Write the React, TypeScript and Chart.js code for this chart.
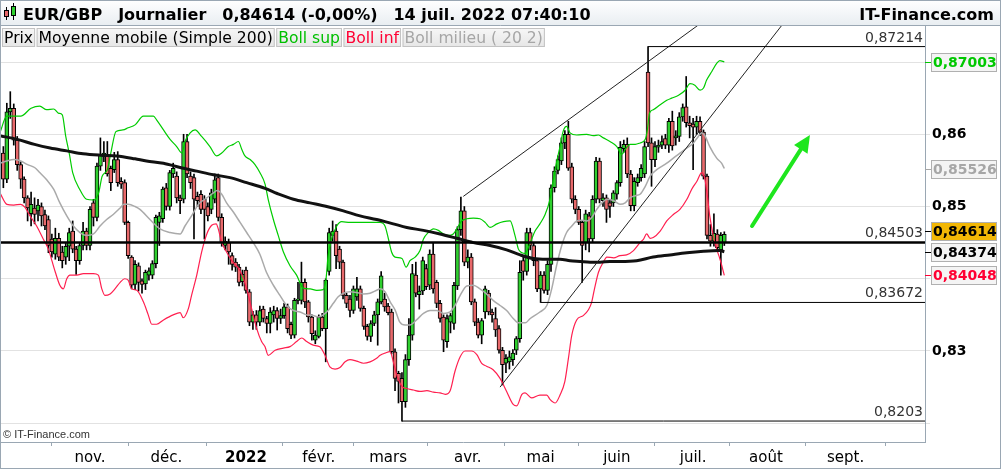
import React, { useEffect, useRef } from "react";
import { Chart, registerables } from "chart.js";

Chart.register(...registerables);

// ---------- DATA ----------
// x = trading-day index (0 = 1 Nov 2021), prices in pips (1/10000)
const PIP = 10000;
const FIRST_INDEX = -25;

const opens = [
  8574, 8538, 8631, 8636, 8592, 8558, 8538, 8512, 8490, 8498,
  8494, 8500, 8489, 8482, 8455, 8434, 8456, 8437, 8430, 8445,
  8466, 8441, 8425, 8446, 8466, 8446, 8505, 8485, 8556, 8570,
  8572, 8553, 8551, 8565, 8535, 8533, 8478, 8430, 8392, 8418,
  8397, 8393, 8405, 8405, 8421, 8478, 8483, 8526, 8500, 8545,
  8542, 8512, 8510, 8590, 8542, 8540, 8514, 8517, 8510, 8500,
  8496, 8510, 8540, 8485, 8446, 8450, 8432, 8423, 8416, 8396,
  8412, 8382, 8340, 8350, 8340, 8358, 8345, 8338, 8350, 8356,
  8345, 8349, 8361, 8337, 8322, 8370, 8370, 8395, 8368, 8347,
  8315, 8320, 8347, 8331, 8410, 8460, 8466, 8441, 8423, 8377,
  8372, 8356, 8375, 8386, 8359, 8334, 8320, 8338, 8350, 8368,
  8372, 8362, 8354, 8299, 8269, 8262, 8230, 8288, 8322, 8405,
  8378, 8383, 8414, 8391, 8434, 8395, 8366, 8347, 8313, 8340,
  8338, 8390, 8468, 8494, 8423, 8430, 8368, 8340, 8322, 8354,
  8380, 8354, 8345, 8331, 8301, 8283, 8285, 8288, 8301, 8317,
  8425, 8410, 8464, 8446, 8425, 8386, 8405, 8384, 8420, 8526,
  8550, 8563, 8588, 8600, 8555, 8510, 8496, 8478, 8450, 8487,
  8455, 8510, 8563, 8508, 8512, 8505, 8505, 8517, 8533, 8580,
  8586, 8545, 8501, 8533, 8540, 8545, 8686, 8588, 8565, 8582,
  8585, 8594, 8585, 8618, 8595, 8597, 8624, 8638, 8616, 8614,
  8610, 8618, 8603, 8542, 8460, 8452, 8462, 8440, 8450,
];
const highs = [
  8583, 8643, 8659, 8642, 8597, 8562, 8541, 8515, 8520, 8512,
  8510, 8505, 8495, 8487, 8462, 8470, 8463, 8445, 8450, 8470,
  8480, 8445, 8450, 8478, 8470, 8500, 8510, 8560, 8595, 8590,
  8590, 8556, 8575, 8576, 8540, 8537, 8480, 8432, 8425, 8422,
  8400, 8412, 8415, 8425, 8488, 8492, 8527, 8532, 8550, 8560,
  8548, 8516, 8600, 8600, 8548, 8545, 8520, 8522, 8515, 8505,
  8524, 8545, 8545, 8490, 8458, 8455, 8436, 8428, 8420, 8412,
  8416, 8385, 8355, 8356, 8362, 8362, 8348, 8360, 8362, 8360,
  8358, 8366, 8365, 8340, 8373, 8395, 8423, 8400, 8370, 8350,
  8328, 8350, 8352, 8400, 8470, 8480, 8475, 8445, 8426, 8380,
  8377, 8390, 8402, 8390, 8362, 8337, 8342, 8355, 8372, 8410,
  8380, 8366, 8358, 8303, 8272, 8270, 8295, 8345, 8420, 8423,
  8390, 8430, 8420, 8440, 8450, 8398, 8370, 8350, 8350, 8352,
  8395, 8472, 8513, 8500, 8440, 8435, 8372, 8345, 8345, 8390,
  8384, 8358, 8360, 8335, 8305, 8295, 8300, 8302, 8320, 8425,
  8432, 8470, 8470, 8450, 8428, 8410, 8410, 8425, 8530, 8555,
  8570, 8595, 8605, 8618, 8560, 8515, 8500, 8480, 8495, 8492,
  8515, 8568, 8567, 8518, 8516, 8510, 8522, 8536, 8590, 8592,
  8595, 8550, 8540, 8545, 8558, 8590, 8721.4, 8595, 8590, 8592,
  8598, 8600, 8622, 8632, 8605, 8630, 8642, 8680, 8625, 8622,
  8625, 8624, 8606, 8545, 8475, 8490, 8468, 8464, 8465,
];
const lows = [
  8526, 8533, 8622, 8585, 8550, 8525, 8505, 8480, 8473, 8476,
  8480, 8473, 8468, 8436, 8430, 8427, 8425, 8415, 8420, 8425,
  8436, 8406, 8420, 8440, 8440, 8440, 8473, 8480, 8550, 8562,
  8542, 8522, 8547, 8528, 8525, 8475, 8428, 8386, 8385, 8383,
  8380, 8385, 8398, 8400, 8415, 8446, 8478, 8495, 8495, 8540,
  8505, 8490, 8505, 8540, 8525, 8455, 8500, 8490, 8455, 8480,
  8490, 8505, 8480, 8445, 8440, 8420, 8412, 8410, 8390, 8390,
  8380, 8335, 8330, 8330, 8335, 8340, 8325, 8325, 8340, 8329,
  8338, 8345, 8325, 8317, 8318, 8365, 8365, 8360, 8340, 8315,
  8310, 8318, 8328, 8285, 8405, 8452, 8414, 8414, 8372, 8360,
  8347, 8352, 8370, 8355, 8330, 8315, 8313, 8335, 8308, 8365,
  8355, 8350, 8296, 8245, 8228, 8203, 8222, 8280, 8315, 8375,
  8358, 8378, 8385, 8385, 8380, 8360, 8340, 8299, 8305, 8325,
  8330, 8385, 8460, 8418, 8415, 8364, 8335, 8318, 8310, 8345,
  8350, 8340, 8320, 8297, 8253, 8270, 8275, 8280, 8295, 8312,
  8398, 8405, 8440, 8418, 8382, 8367.2, 8380, 8378, 8410, 8520,
  8545, 8558, 8580, 8550, 8505, 8490, 8475, 8395, 8440, 8437,
  8450, 8505, 8505, 8500, 8478, 8485, 8500, 8510, 8528, 8575,
  8540, 8494, 8494, 8528, 8535, 8540, 8583, 8528, 8555, 8575,
  8580, 8580, 8575, 8578, 8585, 8590, 8618, 8610, 8595, 8551,
  8600, 8598, 8538, 8455, 8445, 8445, 8438, 8405, 8446,
];
const closes = [
  8538, 8631, 8636, 8592, 8558, 8538, 8512, 8498, 8503, 8489,
  8502, 8487, 8473, 8446, 8437, 8456, 8430, 8425, 8445, 8464,
  8441, 8425, 8446, 8466, 8446, 8496, 8485, 8556, 8572, 8574,
  8545, 8533, 8565, 8533, 8531, 8478, 8432, 8391, 8420, 8395,
  8392, 8409, 8411, 8421, 8485, 8487, 8524, 8500, 8547, 8553,
  8512, 8508, 8590, 8545, 8533, 8510, 8508, 8496, 8496, 8487,
  8519, 8537, 8485, 8450, 8452, 8437, 8420, 8416, 8395, 8406,
  8384, 8340, 8350, 8340, 8356, 8345, 8338, 8354, 8356, 8345,
  8349, 8361, 8331, 8322, 8370, 8372, 8395, 8368, 8347, 8324,
  8322, 8347, 8331, 8398, 8464, 8466, 8432, 8423, 8377, 8366,
  8356, 8386, 8386, 8359, 8334, 8320, 8338, 8350, 8368, 8404,
  8361, 8353, 8299, 8262, 8258, 8230, 8288, 8322, 8407, 8380,
  8383, 8425, 8389, 8434, 8386, 8366, 8345, 8315, 8345, 8349,
  8391, 8468, 8494, 8423, 8430, 8368, 8340, 8322, 8342, 8386,
  8354, 8350, 8329, 8301, 8281, 8290, 8292, 8297, 8317, 8409,
  8410, 8464, 8446, 8425, 8386, 8405, 8384, 8420, 8526, 8549,
  8565, 8588, 8600, 8553, 8510, 8496, 8478, 8446, 8490, 8455,
  8510, 8563, 8510, 8512, 8496, 8500, 8519, 8533, 8582, 8586,
  8545, 8501, 8535, 8540, 8553, 8583, 8588, 8565, 8583, 8585,
  8590, 8585, 8618, 8584, 8598, 8624, 8637, 8616, 8612, 8610,
  8618, 8603, 8542, 8460, 8452, 8463, 8443, 8460, 8461.4,
];

// Indicator lines: [trading-day index, pips]
const ma200Pts = [
  [-26, 8598], [-21, 8593], [-16, 8586], [-11.5, 8581], [-6.7, 8577], [-2, 8573], [3, 8571],
  [7.7, 8570], [13, 8566], [16.3, 8563], [21.2, 8560], [26, 8554], [30.8, 8549], [35.6, 8544],
  [40.4, 8540], [45.2, 8533], [50.5, 8525], [54, 8518], [58.7, 8510], [63.5, 8505], [68.3, 8500],
  [73.1, 8494], [77.9, 8487], [82.7, 8482], [87.5, 8476], [91.4, 8471], [96.2, 8467], [101, 8462],
  [105.8, 8456], [110.6, 8450], [115.4, 8446], [120.2, 8440], [124.1, 8433], [127.9, 8428],
  [131.8, 8427], [135.6, 8427], [138.5, 8425], [141.4, 8424], [144.3, 8423], [147.2, 8423],
  [150, 8424], [152.9, 8424], [157.7, 8425], [162.5, 8430], [167.3, 8433], [172.2, 8436],
  [177, 8438], [181.7, 8439], [183, 8437.4],
];
const bollUpPts = [
  [-26, 8602], [-24, 8625], [-20, 8625], [-17, 8636], [-14.5, 8639], [-12.5, 8634], [-10.5, 8635],
  [-9, 8629], [-8, 8627], [-7, 8597], [-6, 8574], [-5, 8547], [-3, 8524], [-1, 8510], [1, 8509],
  [2.5, 8519], [3.5, 8542], [5, 8551], [6, 8574], [7.5, 8604], [9.5, 8606], [11, 8609], [13, 8613],
  [15.4, 8625], [18.3, 8625], [19.2, 8620], [21.2, 8606], [23.1, 8593], [25, 8583], [26.5, 8574],
  [27.4, 8590], [28.9, 8602], [30.3, 8606], [32.2, 8597], [34.6, 8583], [36.5, 8570], [38, 8574],
  [39.9, 8583], [41.4, 8586], [42.8, 8590], [43.8, 8579], [44.7, 8570], [46.2, 8565], [47.6, 8558],
  [49, 8547], [50.5, 8531], [51.4, 8510], [52.9, 8482], [54.3, 8460], [55.8, 8437], [57.7, 8418],
  [59.6, 8405], [61.5, 8387], [63.5, 8386], [65.4, 8384], [67.3, 8385], [68.1, 8400], [68.7, 8432],
  [69.7, 8455], [71.2, 8473], [72.6, 8479], [75, 8478], [77.9, 8478], [80.8, 8478], [83.7, 8478],
  [85.1, 8473], [86.1, 8455], [87, 8437], [88, 8430], [90, 8428], [91.2, 8416], [92.3, 8425],
  [93.8, 8430], [95.2, 8439], [96.2, 8455], [97.6, 8464], [99.1, 8469], [100.5, 8467], [102, 8462],
  [103.4, 8460], [104.8, 8462], [105.8, 8469], [107.2, 8480], [108.7, 8483], [110.6, 8484],
  [112.5, 8483], [114, 8478], [115.4, 8471], [117.4, 8476], [119.3, 8479], [121.2, 8480],
  [122.6, 8460], [123.6, 8441], [124.6, 8436], [125.5, 8435], [127, 8450], [128.4, 8466],
  [129.8, 8476], [131.3, 8489], [132.7, 8510], [133.7, 8538], [134.6, 8561], [135.6, 8583],
  [136.5, 8604], [137.5, 8611], [138.5, 8602], [140.4, 8599], [143.3, 8600], [145.2, 8598],
  [146.7, 8599], [148.1, 8595], [150, 8590], [152, 8583], [153.4, 8572], [154.4, 8579],
  [155.8, 8586], [157.3, 8586], [158.7, 8588], [160.2, 8593], [160.8, 8606], [161.4, 8629],
  [162.5, 8634], [164.5, 8641], [166.4, 8647], [167.8, 8650], [169.8, 8654], [171.7, 8661],
  [173.1, 8670], [174.5, 8668], [176, 8661], [177, 8664], [177.9, 8675], [179.4, 8687],
  [180.8, 8698], [181.7, 8702], [183, 8700.3],
];
const bollMidPts = [
  [-26, 8560], [-24, 8563], [-22, 8565], [-20, 8563], [-18, 8558], [-16, 8554], [-14.5, 8547],
  [-12.5, 8537], [-10.5, 8524], [-8.7, 8505], [-6.7, 8487], [-4.8, 8473], [-2.9, 8464], [-1, 8460],
  [1, 8462], [2.9, 8473], [4.8, 8482], [6.7, 8489], [8.7, 8498], [9.8, 8503], [11, 8503], [13, 8500],
  [14.4, 8496], [17.3, 8482], [20.2, 8469], [23.1, 8464], [26, 8462], [27.4, 8473], [29.3, 8487],
  [31.3, 8503], [33.7, 8512], [35.6, 8519], [36.7, 8522], [38, 8517], [39.4, 8505], [41.4, 8492],
  [43.3, 8478], [45.2, 8464], [47.1, 8450], [49, 8434], [50.9, 8409], [52.9, 8391], [54.8, 8377],
  [56.7, 8363], [58.7, 8356], [60.6, 8354], [62.5, 8350], [64.4, 8349], [65.9, 8347], [67.3, 8350],
  [68.7, 8356], [70.2, 8366], [71.6, 8375], [73.1, 8380], [75, 8382], [76.9, 8381], [78.9, 8379],
  [80.8, 8380], [82.7, 8384], [83.7, 8386], [85.1, 8382], [86.6, 8368], [88, 8357], [89.4, 8340],
  [90.9, 8336], [92.3, 8336], [94.2, 8343], [96.2, 8352], [98.1, 8356], [100, 8356], [102, 8352],
  [103.9, 8354], [105.3, 8363], [106.8, 8377], [108.7, 8390], [110.6, 8391], [112.5, 8386],
  [114.4, 8379], [116.3, 8370], [118.3, 8363], [120.2, 8356], [122.1, 8345], [123.6, 8339],
  [125.6, 8339], [127, 8345], [129.8, 8354], [131.8, 8363], [133.2, 8386], [134.6, 8418],
  [136.1, 8446], [137.5, 8464], [139, 8473], [140.4, 8480], [141.9, 8481], [143.3, 8480],
  [144.8, 8485], [146.2, 8496], [147.7, 8505], [149.1, 8510], [151.1, 8508], [152.9, 8503],
  [154.4, 8505], [155.8, 8512], [157.3, 8515], [158.7, 8517], [160.2, 8528], [161.6, 8542],
  [163.5, 8551], [166.4, 8560], [168.3, 8567], [170.2, 8574], [172.2, 8581], [174.1, 8588],
  [175.5, 8597], [176.5, 8602], [177.4, 8598], [178.8, 8583], [180.8, 8567], [182.2, 8560],
  [183, 8552.6],
];
const bollLowPts = [
  [-26, 8519], [-24, 8503], [-22, 8502], [-20, 8503], [-18.8, 8499], [-17.3, 8487], [-15.4, 8473],
  [-13.5, 8455], [-12, 8441], [-11, 8425], [-10, 8409], [-8.7, 8391], [-7.7, 8386], [-6.7, 8400],
  [-5.8, 8405], [-3.8, 8405], [-1.9, 8407], [1, 8407], [2.4, 8405], [3.4, 8386], [4.3, 8377],
  [5.8, 8379], [7.2, 8386], [8.7, 8395], [10, 8400], [11, 8398], [12, 8386], [13.5, 8384],
  [15.4, 8368], [16.8, 8350], [17.8, 8337], [19.2, 8337], [21.2, 8343], [24, 8350], [26, 8353],
  [26.9, 8346], [28.4, 8359], [29.3, 8377], [30.8, 8405], [32.2, 8437], [33.7, 8462], [35.1, 8474],
  [36.4, 8476], [37, 8469], [38, 8450], [39.4, 8437], [40.9, 8425], [43.3, 8411], [45.2, 8386],
  [46.6, 8359], [48.1, 8331], [49.5, 8313], [50.5, 8306], [51.4, 8294], [53.4, 8301], [55.8, 8304],
  [57.7, 8306], [59.6, 8313], [61.1, 8318], [62.5, 8313], [64.4, 8308], [66.3, 8306], [67.8, 8294],
  [69.2, 8278], [70.7, 8275], [72.1, 8277], [73.6, 8285], [75, 8288], [76.9, 8286], [78.9, 8283],
  [80.8, 8285], [82.7, 8290], [83.7, 8294], [85.1, 8297], [86.6, 8299], [87.5, 8285], [88.5, 8267],
  [90, 8251], [91.4, 8248], [93.3, 8246], [95.2, 8244], [97.2, 8245], [99.1, 8243], [101, 8242],
  [102.5, 8240], [103.9, 8245], [105.3, 8272], [106.8, 8292], [108.2, 8300], [110.1, 8300],
  [111.6, 8295], [113, 8283], [114.4, 8279], [116.3, 8274], [118.3, 8262], [120.2, 8244],
  [122.1, 8226], [123.1, 8224], [124.6, 8240], [125.5, 8242], [127.4, 8235], [129.8, 8239],
  [131.8, 8239], [132.7, 8233], [134.2, 8228], [135.6, 8239], [137, 8258], [138, 8289],
  [139, 8322], [140.4, 8343], [142.3, 8349], [143.8, 8357], [144.7, 8367], [145.5, 8385],
  [146.7, 8409], [148.1, 8423], [149.1, 8430], [151.1, 8429], [152.9, 8432], [154.8, 8433],
  [156.8, 8439], [158.7, 8450], [159.7, 8455], [160.6, 8462], [161.6, 8456], [162.5, 8457],
  [164.5, 8466], [166.4, 8480], [168.3, 8489], [170.2, 8496], [172.2, 8510], [173.6, 8524],
  [175.1, 8535], [176.5, 8547], [177.4, 8538], [178.1, 8515], [178.8, 8487], [179.8, 8460],
  [180.8, 8441], [181.7, 8428], [183, 8404.8],
];

// Horizontal levels drawn on the chart
const levelValues = [0.87214, 0.84503, 0.83672, 0.8203];
const levelStarts = [161, -26, 130, 90];
// Trend lines: [index, price]
const trendUpper = [[107.7, 0.8514], [190, 0.8802]];
const trendLower = [[118.3, 0.825], [210, 0.8815]];
// Arrow annotation: [index, price]
const arrowFrom = [191, 0.8473];
const arrowTo = [207.7, 0.8599];

// Axes
const monthTicks = [0, 22, 45, 66, 86, 109, 130, 152, 174, 195, 218];
const monthLabels = ["nov.", "déc.", "2022", "févr.", "mars", "avr.", "mai", "juin", "juil.", "août", "sept."];
const yGridTicks = [0.82, 0.83, 0.84, 0.85, 0.86, 0.87];
const yLabelTicks = [0.83, 0.85, 0.86];
const X_MIN = -25.68;
const X_MAX = 240.9;
const Y_MIN = 0.8174;
const Y_MAX = 0.87499;

// Header texts
const headerTitle = "EUR/GBP";
const headerPeriod = "Journalier";
const headerChange = "(-0,00%)";
const headerDate = "14 juil. 2022 07:40:10";
const headerSite = "IT-Finance.com";
const legendItems = ["Prix", "Moyenne mobile (Simple 200)", "Boll sup", "Boll inf", "Boll milieu ( 20 2)"];

// ---------- STYLE ----------
const FONT = '"DejaVu Sans", Verdana, sans-serif';
const UP = "#2fcf2f";
const DOWN = "#e8696b";
const C_UPPER = "#00cc00";
const C_LOWER = "#ff1f4f";
const C_MID = "#aaaaaa";
const AXIS = "#9aa7b3";

const fmt = (v: number, d = 5) => v.toFixed(d).replace(".", ",");
const last = (a: number[][]) => a[a.length - 1][1] / PIP;
const toPts = (a: number[][]) => a.map(([x, p]) => ({ x, y: p / PIP }));

const decorPlugin = {
  id: "decor",
  beforeDraw(chart: any) {
    const { ctx, width, height } = chart;
    ctx.save();
    ctx.fillStyle = "#ffffff";
    ctx.fillRect(0, 0, width, height);
    ctx.restore();
  },
  afterDatasetsDraw(chart: any) {
    const { ctx, chartArea, scales } = chart;
    const x = scales.x;
    const y = scales.y;
    ctx.save();
    ctx.beginPath();
    ctx.rect(chartArea.left, chartArea.top, chartArea.right - chartArea.left, chartArea.bottom - chartArea.top);
    ctx.clip();

    // level labels
    ctx.font = `14px ${FONT}`;
    ctx.fillStyle = "#333333";
    ctx.textAlign = "right";
    ctx.textBaseline = "alphabetic";
    levelValues.forEach((v) => {
      ctx.fillText(String(v).replace(".", ","), chartArea.right - 2, y.getPixelForValue(v) - 5);
    });

    // arrow
    const x1 = x.getPixelForValue(arrowFrom[0]);
    const y1 = y.getPixelForValue(arrowFrom[1]);
    const x2 = x.getPixelForValue(arrowTo[0]);
    const y2 = y.getPixelForValue(arrowTo[1]);
    const ang = Math.atan2(y2 - y1, x2 - x1);
    const hl = 17;
    const hw = 8;
    const bx = x2 - hl * Math.cos(ang);
    const by = y2 - hl * Math.sin(ang);
    ctx.strokeStyle = "#1ee61e";
    ctx.fillStyle = "#1ee61e";
    ctx.lineWidth = 4;
    ctx.lineCap = "round";
    ctx.beginPath();
    ctx.moveTo(x1, y1);
    ctx.lineTo(bx, by);
    ctx.stroke();
    ctx.beginPath();
    ctx.moveTo(x2, y2);
    ctx.lineTo(bx + hw * Math.sin(ang), by - hw * Math.cos(ang));
    ctx.lineTo(bx - hw * Math.sin(ang), by + hw * Math.cos(ang));
    ctx.closePath();
    ctx.fill();

    // copyright
    ctx.font = `11px "Liberation Sans", Arial, sans-serif`;
    ctx.fillStyle = "#333333";
    ctx.textAlign = "left";
    ctx.fillText("© IT-Finance.com", chartArea.left + 2, chartArea.bottom - 4);
    ctx.restore();
  },
  afterDraw(chart: any) {
    const { ctx, chartArea, scales, width, height } = chart;
    const y = scales.y;
    ctx.save();

    // header row
    const g = ctx.createLinearGradient(0, 0, 0, 26);
    g.addColorStop(0, "#ffffff");
    g.addColorStop(1, "#e8edf1");
    ctx.fillStyle = g;
    ctx.fillRect(0, 0, width, 26);
    ctx.strokeStyle = AXIS;
    ctx.lineWidth = 1;
    ctx.beginPath();
    ctx.moveTo(0, 25.5);
    ctx.lineTo(width, 25.5);
    ctx.stroke();

    // icon (two small candles)
    ctx.fillStyle = "#000";
    ctx.fillRect(6, 7, 1, 13);
    ctx.fillRect(13, 3, 1, 17);
    ctx.fillStyle = "#e8696b";
    ctx.fillRect(4, 10, 5, 7);
    ctx.strokeStyle = "#000";
    ctx.strokeRect(4.5, 10.5, 4, 6);
    ctx.fillStyle = "#2fcf2f";
    ctx.fillRect(11, 6, 5, 10);
    ctx.strokeRect(11.5, 6.5, 4, 9);

    ctx.font = `bold 16px ${FONT}`;
    ctx.fillStyle = "#000";
    ctx.textAlign = "left";
    ctx.textBaseline = "alphabetic";
    const lastClose = closes[closes.length - 1] / PIP;
    const headerParts = [headerTitle, headerPeriod, `${fmt(lastClose)} ${headerChange}`, headerDate];
    let hx = 23;
    headerParts.forEach((t) => {
      ctx.fillText(t, hx, 20);
      hx += ctx.measureText(t).width + 16;
    });
    ctx.textAlign = "right";
    ctx.fillText(headerSite, 994, 20);

    // legend row
    ctx.font = `15.6px ${FONT}`;
    ctx.textAlign = "left";
    const legendColors = ["#000000", "#000000", "#00c000", "#ff0033", "#a6a6a6"];
    let lx = 2;
    legendItems.forEach((t, k) => {
      const w = ctx.measureText(t).width + 4;
      const lg = ctx.createLinearGradient(0, 28, 0, 47);
      lg.addColorStop(0, "#f7f7f7");
      lg.addColorStop(1, "#e6e6e6");
      ctx.fillStyle = lg;
      ctx.fillRect(lx, 28, w, 19);
      ctx.strokeStyle = "#c2c2c2";
      ctx.strokeRect(lx + 0.5, 28.5, w - 1, 18);
      ctx.fillStyle = legendColors[k];
      ctx.fillText(t, lx + 2, 43);
      lx += w + 1.5;
    });

    // price boxes on right axis
    const boxes = [
      { v: last(bollUpPts), color: "#00c800", bg: "#f4f4f4" },
      { v: last(bollMidPts), color: "#a6a6a6", bg: "#f4f4f4" },
      { v: lastClose, color: "#000000", bg: "#f2b705" },
      { v: last(ma200Pts), color: "#000000", bg: "#f4f4f4" },
      { v: last(bollLowPts), color: "#ff0033", bg: "#f4f4f4" },
    ].map((b) => ({ ...b, cy: y.getPixelForValue(b.v) }));
    const sorted = [...boxes].sort((a, b) => b.cy - a.cy);
    for (let k = 1; k < sorted.length; k++) {
      if (sorted[k - 1].cy - sorted[k].cy < 21) sorted[k].cy = sorted[k - 1].cy - 21;
    }
    const ax = chartArea.right;
    ctx.font = `bold 14px ${FONT}`;
    ctx.textBaseline = "middle";
    boxes.forEach((b) => {
      ctx.strokeStyle = b.color;
      ctx.lineWidth = 1;
      ctx.beginPath();
      ctx.moveTo(ax, Math.round(b.cy) + 0.5);
      ctx.lineTo(ax + 6, Math.round(b.cy) + 0.5);
      ctx.stroke();
      const top = Math.round(b.cy) - 9;
      ctx.fillStyle = b.bg;
      ctx.fillRect(ax + 6, top, 66, 19);
      ctx.strokeStyle = "#b0b0b0";
      ctx.strokeRect(ax + 6.5, top + 0.5, 65, 18);
      ctx.fillStyle = b.color;
      ctx.fillText(fmt(b.v), ax + 8, top + 10);
    });

    // outer border
    ctx.strokeStyle = AXIS;
    ctx.lineWidth = 1;
    ctx.strokeRect(0.5, 0.5, width - 1, height - 1);
    ctx.restore();
  },
};

export default function App() {
  const ref = useRef<HTMLCanvasElement | null>(null);

  useEffect(() => {
    document.body.style.margin = "0";
    const canvas = ref.current;
    if (!canvas) return;

    const idx = opens.map((_, k) => FIRST_INDEX + k);
    const wickData = idx.map((x, k) => ({ x, y: [lows[k] / PIP, highs[k] / PIP] }));
    const bodyData = idx.map((x, k) => ({ x, y: [opens[k] / PIP, closes[k] / PIP] }));
    const bodyColors = idx.map((_, k) => (closes[k] >= opens[k] ? UP : DOWN));

    const lineBase = {
      type: "line" as const,
      pointRadius: 0,
      fill: false,
      cubicInterpolationMode: "monotone" as const,
    };

    const levelSets = levelValues.map((v, k) => ({
      ...lineBase,
      data: [
        { x: levelStarts[k], y: v },
        { x: X_MAX, y: v },
      ],
      borderColor: "#000000",
      borderWidth: k === 1 ? 2.5 : 1,
      order: 2,
    }));

    const chart = new Chart(canvas, {
      type: "bar",
      data: {
        datasets: [
          {
            type: "bar",
            data: wickData as any,
            backgroundColor: "#000000",
            borderWidth: 0,
            barThickness: 1,
            grouped: false,
            order: 20,
          } as any,
          {
            type: "bar",
            data: bodyData as any,
            backgroundColor: bodyColors,
            borderColor: "#000000",
            borderWidth: 1,
            borderSkipped: false,
            barThickness: 4,
            minBarLength: 1,
            grouped: false,
            order: 19,
          } as any,
          { ...lineBase, data: toPts(bollMidPts), borderColor: C_MID, borderWidth: 1.5, order: 12 },
          { ...lineBase, data: toPts(bollUpPts), borderColor: C_UPPER, borderWidth: 1.2, order: 11 },
          { ...lineBase, data: toPts(bollLowPts), borderColor: C_LOWER, borderWidth: 1.2, order: 11 },
          { ...lineBase, data: toPts(ma200Pts), borderColor: "#111111", borderWidth: 3, order: 10 },
          ...levelSets,
          {
            ...lineBase,
            data: trendUpper.map(([x, y]) => ({ x, y })),
            borderColor: "#222222",
            borderWidth: 1,
            order: 3,
          },
          {
            ...lineBase,
            data: trendLower.map(([x, y]) => ({ x, y })),
            borderColor: "#222222",
            borderWidth: 1,
            order: 3,
          },
        ] as any,
      },
      options: {
        responsive: false,
        animation: false,
        devicePixelRatio: 1,
        events: [],
        layout: { padding: { top: 26, left: 1, right: 0, bottom: 0 } },
        plugins: { legend: { display: false }, tooltip: { enabled: false } },
        scales: {
          x: {
            type: "linear",
            min: X_MIN,
            max: X_MAX,
            offset: false,
            afterBuildTicks: (scale: any) => {
              scale.ticks = monthTicks.map((v) => ({ value: v }));
            },
            afterFit: (scale: any) => {
              scale.height = 27;
            },
            ticks: {
              autoSkip: false,
              maxRotation: 0,
              padding: 3,
              color: "#000000",
              font: (ctx: any) => ({
                family: FONT,
                size: 15,
                weight: monthLabels[monthTicks.indexOf(ctx.tick?.value)] === "2022" ? "bold" : "normal",
              }),
              callback: (v: any) => monthLabels[monthTicks.indexOf(Number(v))] ?? "",
            },
            grid: { drawOnChartArea: false, drawTicks: true, tickLength: 4, color: AXIS },
            border: { display: true, color: AXIS },
          },
          y: {
            type: "linear",
            position: "right",
            min: Y_MIN,
            max: Y_MAX,
            afterBuildTicks: (scale: any) => {
              scale.ticks = yGridTicks.map((v) => ({ value: v }));
            },
            afterFit: (scale: any) => {
              scale.width = 76;
            },
            ticks: {
              padding: 2,
              color: "#000000",
              font: { family: FONT, size: 14, weight: "bold" },
              callback: (v: any) =>
                yLabelTicks.some((t) => Math.abs(t - Number(v)) < 1e-9) ? fmt(Number(v), 2) : "",
            },
            grid: { color: "#e2e2e2", tickLength: 5, drawTicks: true },
            border: { display: true, color: AXIS },
          },
        },
      } as any,
      plugins: [decorPlugin],
    });

    return () => chart.destroy();
  }, []);

  return <canvas ref={ref} width={1001} height={469} style={{ display: "block", width: 1001, height: 469 }} />;
}
